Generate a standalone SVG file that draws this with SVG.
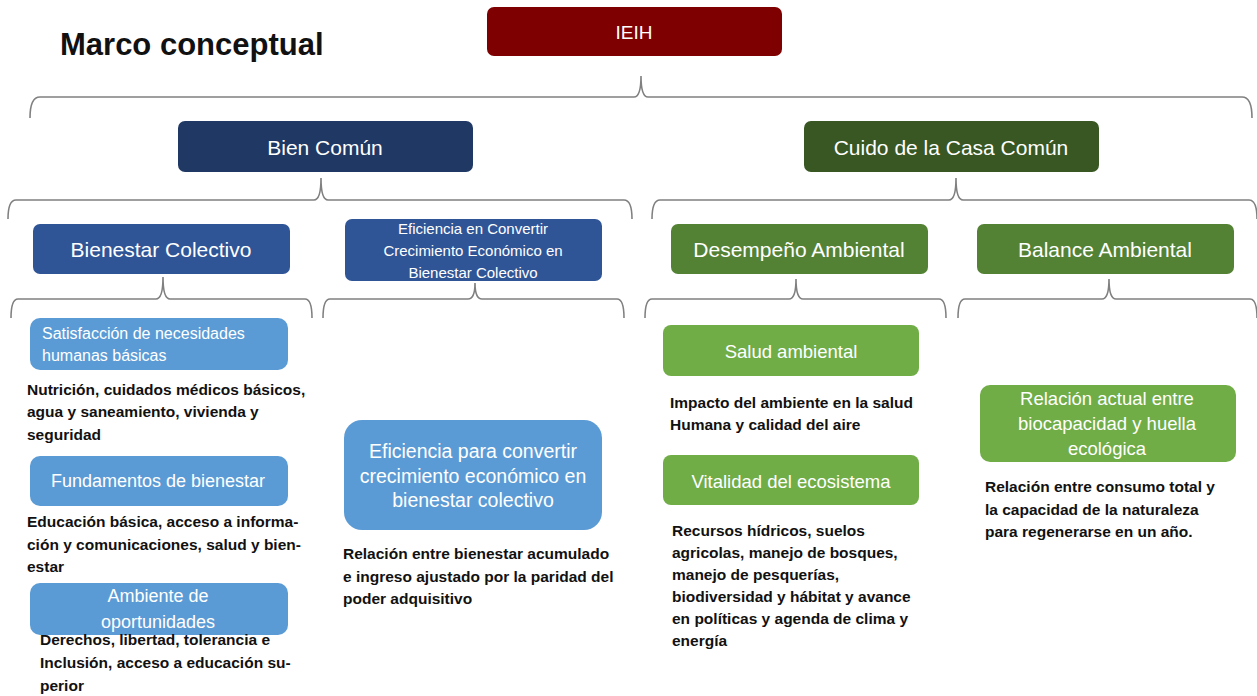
<svg xmlns="http://www.w3.org/2000/svg" width="1257" height="696" viewBox="0 0 1257 696">
<style>
.nt{font-family:"Liberation Sans",Arial,sans-serif;fill:#fff;text-anchor:middle;dominant-baseline:central}
.dt{font-family:"Liberation Sans",Arial,sans-serif;font-weight:bold;font-size:15.5px;fill:#111}
.br{fill:none;stroke:#808080;stroke-width:1.6}
</style>
<rect width="1257" height="696" fill="#fff"/>
<text x="60" y="55" font-family="Liberation Sans,Arial,sans-serif" font-weight="bold" font-size="31" fill="#111">Marco conceptual</text>
<g id="connectors">
<path class="br" d="M30,118 Q30,97 40,97 L634,97 Q641,97 641,76 Q641,97 648,97 L1242,97 Q1252,97 1252,118"/>
<path class="br" d="M8,219 Q8,200 16,200 L314,200 Q321,200 321,178 Q321,200 328,200 L624,200 Q632,200 632,219"/>
<path class="br" d="M652,219 Q652,200 660,200 L949,200 Q956,200 956,178 Q956,200 963,200 L1249,200 Q1257,200 1257,219"/>
<path class="br" d="M11,318 Q11,299 18,299 L156,299 Q163,299 163,277 Q163,299 170,299 L305,299 Q312,299 312,318"/>
<path class="br" d="M323,318 Q323,299 330,299 L468,299 Q475,299 475,283 Q475,299 482,299 L617,299 Q624,299 624,318"/>
<path class="br" d="M645,318 Q645,299 652,299 L789,299 Q796,299 796,279 Q796,299 803,299 L939,299 Q946,299 946,318"/>
<path class="br" d="M958,318 Q958,299 965,299 L1102,299 Q1109,299 1109,279 Q1109,299 1116,299 L1250,299 Q1257,299 1257,318"/>
</g>
<g id="ieih"><rect x="487" y="7" width="295" height="49" rx="7" fill="#7f0000"/><text class="nt" x="634" y="32" font-size="19">IEIH</text></g>
<g id="bien-comun"><rect x="178" y="121" width="295" height="51" rx="7" fill="#203864"/><text class="nt" x="325" y="147" font-size="21">Bien Común</text></g>
<g id="cuido"><rect x="804" y="121" width="295" height="51" rx="7" fill="#385723"/><text class="nt" x="951" y="147" font-size="21">Cuido de la Casa Común</text></g>
<g id="bienestar-colectivo"><rect x="33" y="224" width="257" height="50" rx="7" fill="#2f5597"/><text class="nt" x="161" y="249" font-size="21">Bienestar Colectivo</text></g>
<g id="eficiencia-convertir"><rect x="345" y="219" width="257" height="62" rx="7" fill="#2f5597"/>
<text class="nt" x="473" y="228" font-size="15">Eficiencia en Convertir</text>
<text class="nt" x="473" y="250" font-size="15">Crecimiento Económico en</text>
<text class="nt" x="473" y="272" font-size="15">Bienestar Colectivo</text></g>
<g id="desempeno"><rect x="671" y="224" width="257" height="50" rx="7" fill="#548235"/><text class="nt" x="799" y="249" font-size="21">Desempeño Ambiental</text></g>
<g id="balance"><rect x="977" y="224" width="257" height="50" rx="7" fill="#548235"/><text class="nt" x="1105" y="249" font-size="21">Balance Ambiental</text></g>

<g id="satisfaccion"><rect x="30" y="318" width="258" height="52" rx="10" fill="#5b9bd5"/>
<text class="nt" x="42" y="333" font-size="16" style="text-anchor:start">Satisfacción de necesidades</text>
<text class="nt" x="42" y="355" font-size="16" style="text-anchor:start">humanas básicas</text></g>
<g id="satisfaccion-desc"><text class="dt" x="27" y="395">Nutrición, cuidados médicos básicos,</text>
<text class="dt" x="27" y="417">agua y saneamiento, vivienda y</text>
<text class="dt" x="27" y="440">seguridad</text></g>

<g id="fundamentos"><rect x="30" y="456" width="258" height="50" rx="10" fill="#5b9bd5"/><text class="nt" x="158" y="481" font-size="18">Fundamentos de bienestar</text></g>
<g id="fundamentos-desc"><text class="dt" x="27" y="527">Educación básica, acceso a informa-</text>
<text class="dt" x="27" y="550">ción y comunicaciones, salud y bien-</text>
<text class="dt" x="27" y="572">estar</text></g>

<g id="ambiente"><rect x="30" y="583" width="258" height="52" rx="10" fill="#5b9bd5"/>
<text class="nt" x="158" y="596" font-size="18">Ambiente de</text>
<text class="nt" x="158" y="622" font-size="18">oportunidades</text></g>
<g id="ambiente-desc"><text class="dt" x="40" y="645">Derechos, libertad, tolerancia e</text>
<text class="dt" x="40" y="668">Inclusión, acceso a educación su-</text>
<text class="dt" x="40" y="691">perior</text></g>

<g id="eficiencia-para"><rect x="344" y="420" width="258" height="110" rx="18" fill="#5b9bd5"/>
<text class="nt" x="473" y="451" font-size="19.5">Eficiencia para convertir</text>
<text class="nt" x="473" y="476" font-size="19.5">crecimiento económico en</text>
<text class="nt" x="473" y="500" font-size="19.5">bienestar colectivo</text></g>
<g id="eficiencia-desc"><text class="dt" x="343" y="559">Relación entre bienestar acumulado</text>
<text class="dt" x="343" y="582">e ingreso ajustado por la paridad del</text>
<text class="dt" x="343" y="604">poder adquisitivo</text></g>

<g id="salud"><rect x="663" y="325" width="256" height="51" rx="8" fill="#70ad47"/><text class="nt" x="791" y="351" font-size="18.5">Salud ambiental</text></g>
<g id="salud-desc"><text class="dt" x="670" y="408">Impacto del ambiente en la salud</text>
<text class="dt" x="670" y="430">Humana y calidad del aire</text></g>

<g id="vitalidad"><rect x="663" y="455" width="256" height="50" rx="8" fill="#70ad47"/><text class="nt" x="791" y="481" font-size="18.5">Vitalidad del ecosistema</text></g>
<g id="vitalidad-desc"><text class="dt" x="672" y="536">Recursos hídricos, suelos</text>
<text class="dt" x="672" y="558">agricolas, manejo de bosques,</text>
<text class="dt" x="672" y="580">manejo de pesquerías,</text>
<text class="dt" x="672" y="602">biodiversidad y hábitat y avance</text>
<text class="dt" x="672" y="624">en políticas y agenda de clima y</text>
<text class="dt" x="672" y="646">energía</text></g>

<g id="relacion"><rect x="980" y="385" width="256" height="77" rx="10" fill="#70ad47"/>
<text class="nt" x="1107" y="398" font-size="18.5">Relación actual entre</text>
<text class="nt" x="1107" y="423" font-size="18.5">biocapacidad y huella</text>
<text class="nt" x="1107" y="448" font-size="18.5">ecológica</text></g>
<g id="relacion-desc"><text class="dt" x="985" y="492">Relación entre consumo total y</text>
<text class="dt" x="985" y="515">la capacidad de la naturaleza</text>
<text class="dt" x="985" y="537">para regenerarse en un año.</text></g>
</svg>
